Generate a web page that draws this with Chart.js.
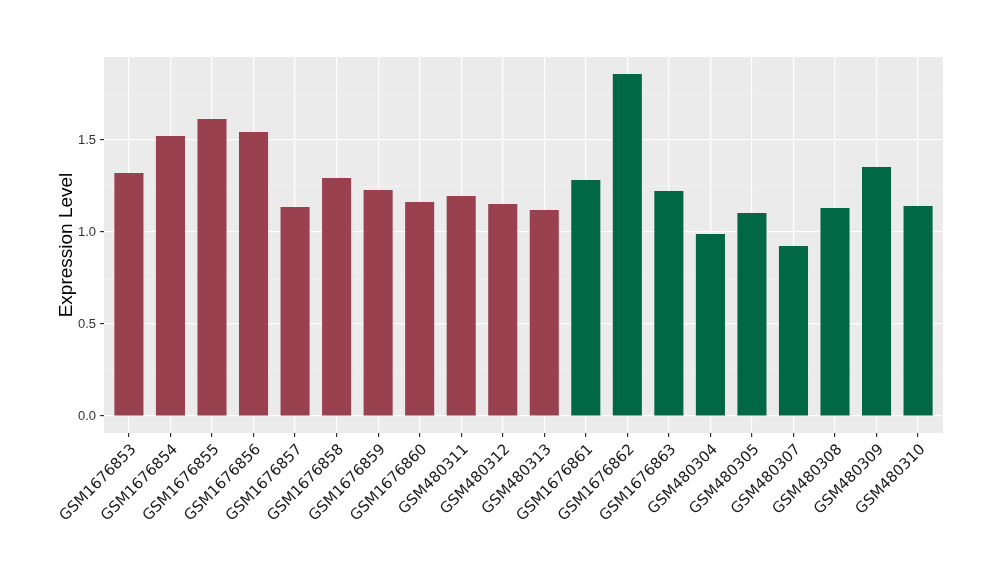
<!DOCTYPE html>
<html>
<head>
<meta charset="utf-8">
<script src="https://cdn.jsdelivr.net/npm/chart.js@4"></script>
<style>
  html, body { margin: 0; padding: 0; background: #fff; }
</style>
</head>
<body>
<canvas id="exprChart" width="1000" height="580"></canvas>
<script>
// sample ids and expression levels
const samples = [
  "GSM1676853", "GSM1676854", "GSM1676855", "GSM1676856", "GSM1676857",
  "GSM1676858", "GSM1676859", "GSM1676860", "GSM480311", "GSM480312",
  "GSM480313", "GSM1676861", "GSM1676862", "GSM1676863", "GSM480304",
  "GSM480305", "GSM480307", "GSM480308", "GSM480309", "GSM480310",
];
const expression = [
  1.321, 1.522, 1.614, 1.543, 1.136, 1.293, 1.228, 1.163, 1.196, 1.152,
  1.120, 1.283, 1.859, 1.223, 0.989, 1.103, 0.924, 1.130, 1.353, 1.141,
];
// first 11 samples are one group, the rest the other
const groups = [
  "A", "A", "A", "A", "A", "A", "A", "A", "A", "A",
  "A", "B", "B", "B", "B", "B", "B", "B", "B", "B",
];
const yTicks = [0, 0.25, 0.5, 0.75, 1.0, 1.25, 1.5, 1.75];

const groupColors = { A: "#9A4150", B: "#006845" };

// grey panel behind the plot, like ggplot
const panelBackground = {
  id: "panelBackground",
  beforeDraw(chart) {
    const { ctx, chartArea } = chart;
    ctx.save();
    ctx.fillStyle = "#EBEBEB";
    ctx.fillRect(chartArea.left, chartArea.top,
      chartArea.right - chartArea.left, chartArea.bottom - chartArea.top);
    ctx.restore();
  },
};

const isMajor = (v) => Math.abs(v * 2 - Math.round(v * 2)) < 1e-6;

// linear x so the discrete axis gets ggplot's 0.6 expansion on each side
const points = expression.map((v, i) => ({ x: i, y: v }));

new Chart(document.getElementById("exprChart"), {
  type: "bar",
  data: {
    datasets: [
      {
        label: "Expression Level",
        data: points,
        backgroundColor: groups.map((g) => groupColors[g]),
        borderWidth: 0,
        barPercentage: 0.7,
        categoryPercentage: 1.0,
      },
    ],
  },
  options: {
    responsive: false,
    animation: false,
    layout: {
      padding: { top: 57, right: 57, left: 55, bottom: 0 },
    },
    plugins: {
      legend: { display: false },
      tooltip: { enabled: false },
    },
    scales: {
      x: {
        type: "linear",
        min: -0.6,
        max: samples.length - 0.4,
        offset: false,
        afterFit(axis) {
          axis.height = 147;
        },
        afterBuildTicks(axis) {
          axis.ticks = samples.map((s, i) => ({ value: i }));
        },
        border: { display: false },
        grid: {
          offset: false,
          color: "#FFFFFF",
          lineWidth: 1.2,
          tickLength: 4,
          tickColor: "#333333",
        },
        ticks: {
          minRotation: 45,
          maxRotation: 45,
          autoSkip: false,
          padding: 4,
          labelOffset: 5,
          color: "#1A1A1A",
          font: { family: "DejaVu Sans", size: 15 },
          callback: (v) => samples[v],
        },
      },
      y: {
        min: -0.092,
        max: 1.951,
        afterFit(axis) {
          axis.width = 49;
        },
        afterBuildTicks(axis) {
          axis.ticks = yTicks.map((v) => ({ value: v }));
        },
        border: { display: false },
        grid: {
          color: (ctx) => (isMajor(ctx.tick.value) ? "#FFFFFF" : "rgba(255,255,255,0.55)"),
          lineWidth: (ctx) => (isMajor(ctx.tick.value) ? 1.2 : 0.6),
          tickLength: 4,
          tickColor: (ctx) => (isMajor(ctx.tick.value) ? "#333333" : "rgba(0,0,0,0)"),
        },
        ticks: {
          padding: 4,
          color: "#333333",
          font: { family: "Liberation Sans", size: 13 },
          callback: (v) => (isMajor(v) ? v.toFixed(1) : ""),
        },
        title: {
          display: true,
          text: "Expression Level",
          color: "#000000",
          font: { family: "Liberation Sans", size: 19 },
          padding: { top: 0, bottom: 4 },
        },
      },
    },
  },
  plugins: [panelBackground],
});
</script>
</body>
</html>
